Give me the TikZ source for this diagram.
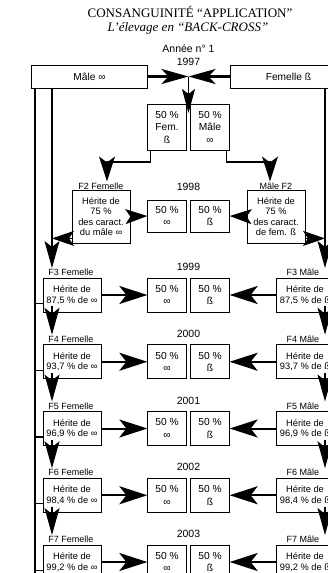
\documentclass[tikz,border=0pt]{standalone}
\usepackage{fontspec}
\setmainfont{Liberation Serif}
\setsansfont{Liberation Sans}
\usetikzlibrary{arrows.meta,positioning,calc}

\begin{document}
\begin{tikzpicture}[x=1pt,y=-1pt,
    box/.style={draw,line width=0.8pt,inner sep=0pt,align=center,font=\sffamily\fontsize{9.3}{10.4}\selectfont},
    herbox/.style={box,minimum width=58pt,minimum height=34pt},
    halfbox/.style={box,minimum width=38.5pt,minimum height=34pt,font=\sffamily\fontsize{10.2}{12.5}\selectfont},
    sexbox/.style={box,minimum width=116pt,minimum height=23pt,font=\sffamily\fontsize{10.2}{12}\selectfont},
    tag/.style={inner sep=1pt,font=\sffamily\fontsize{9}{10}\selectfont},
    yr/.style={inner sep=1pt,align=center,font=\sffamily\fontsize{10.5}{13}\selectfont},
    vline/.style={line width=1.2pt},
    downtip/.style={vline,-{Stealth[length=27pt,width=15pt,inset=6pt]}},
    sidetip/.style={vline,-{Stealth[length=22pt,width=15pt,inset=5pt]}},
    rowtip/.style={line width=2pt,-{Stealth[length=28pt,width=18pt,inset=7pt]}}]
\useasboundingbox (0,0) rectangle (328,573);
\clip (0,0) rectangle (328,573);

% Titles
\node[font=\fontsize{13}{15}\selectfont] (title) at (190,12) {CONSANGUINITÉ “APPLICATION”};
\node[font=\itshape\fontsize{13}{15}\selectfont] (subtitle) at (188,28) {L’élevage en “BACK-CROSS”};

% First year: the two parents
\node[yr] (y1997) at (188.5,55.5) {Année n° 1\\1997};
\node[sexbox] (male) at (89.5,76.5) {Mâle ∞};
\node[sexbox] (female) at (288.5,76.5) {Femelle ß};
\coordinate (mid) at (188.5,76.5);
\coordinate (junc) at (188.5,113);
\node[halfbox,minimum height=46pt] (hfem) at (167,127) {50 \%\\Fem.\\ß};
\node[halfbox,minimum height=46pt] (hmal) at (210,127) {50 \%\\Mâle\\∞};

% Guide lines
\coordinate (lout) at (35,600);
\coordinate (lin) at (52,0);
\coordinate (rin) at (325,0);
\coordinate (kl) at (107,162);
\coordinate (kr) at (270,162);

% F2 row
\node[yr] (y1998) at (188.5,187) {1998};
\node[tag] (ftag2) at (101,186) {F2 Femelle};
\node[herbox,minimum height=53pt] (f2) at (101,216.5) {Hérite de\\75 \%\\des caract.\\du mâle ∞};
\node[tag] (mtag2) at (276,186) {Mâle F2};
\node[herbox,minimum height=53pt] (m2) at (276,216.5) {Hérite de\\75 \%\\des caract.\\de fem. ß};
\node[halfbox,minimum height=32pt] (ha2) at (167,216) {50 \%\\∞};
\node[halfbox,minimum height=32pt] (hb2) at (210,216) {50 \%\\ß};

% F3 to F7 rows
\foreach \n/\p/\yr [count=\k from 0] in {3/{87,5}/1999, 4/{93,7}/2000, 5/{96,9}/2001, 6/{98,4}/2002, 7/{99,2}/2003}{
    \pgfmathsetmacro\top{278+66.75*\k}
    \node[yr] (y\yr) at (188.5,\top-11) {\yr};
    \node[tag] (ftag\n) at (71,\top-5.5) {F\n\ Femelle};
    \node[tag] (mtag\n) at (303,\top-5.5) {F\n\ Mâle};
    \node[herbox] (f\n) at (72,\top+17) {Hérite de\\\p\ \% de ∞};
    \node[halfbox] (ha\n) at (167,\top+17) {50 \%\\∞};
    \node[halfbox] (hb\n) at (210,\top+17) {50 \%\\ß};
    \node[herbox] (m\n) at (305,\top+17) {Hérite de\\\p\ \% de ß};
    \draw[rowtip] (f\n.east) -- (ha\n.west);
    \draw[rowtip] (m\n.west) -- (hb\n.east);
    \coordinate (tk\n) at ([yshift=9pt]f\n.south west);
    \draw[vline] (tk\n) -- (tk\n -| lout);
}

% Crossing of the parents
\draw[line width=3pt,-{Stealth[length=27pt,width=15pt,inset=7pt]}] (male.east) -- (mid);
\draw[line width=3pt,-{Stealth[length=27pt,width=15pt,inset=7pt]}] (female.west) -- (mid);
\draw[line width=1pt,-{Stealth[length=24pt,width=13pt,inset=5pt]}] (mid) -- (junc);
\draw[vline,-{Stealth[length=25pt,width=16pt,inset=6pt]}] ([xshift=3pt]hfem.south west) |- (kl) -- (kl |- ftag2.north);
\draw[vline,-{Stealth[length=25pt,width=16pt,inset=6pt]}] ([xshift=-3pt]hmal.south east) |- (kr) -- (kr |- mtag2.north);

% Long lines from the parents
\draw[vline] (male.south -| lout) -- (lout);
\draw[downtip] (male.south -| lin) -- (ftag3.north -| lin);
\draw[downtip] (female.south -| rin) -- (mtag3.north -| rin);

% F2 arrows
\draw[sidetip] (f2.east) -- (ha2.west);
\draw[sidetip] (m2.west) -- (hb2.east);
\coordinate (f2l) at ([yshift=5pt]f2.south west);
\coordinate (m2r) at ([yshift=5pt]m2.south east);
\draw[sidetip] (f2l) -- (f2l -| lin);
\draw[sidetip] (m2r) -- (m2r -| rin);

% From one generation to the next
\foreach \n/\m in {3/4, 4/5, 5/6, 6/7}{
    \draw[downtip,shorten <=-6pt] (f\n.south -| lin) -- (ftag\m.north -| lin);
    \draw[downtip,shorten <=-6pt] (m\n.south -| rin) -- (mtag\m.north -| rin);
}
\end{tikzpicture}
\end{document}
